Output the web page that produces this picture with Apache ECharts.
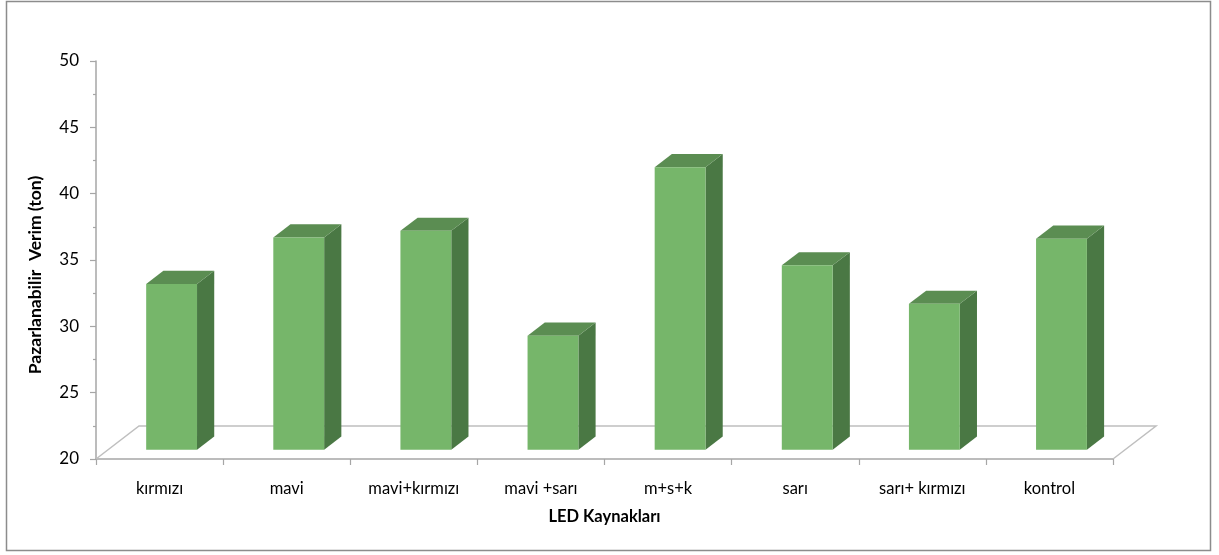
<!DOCTYPE html>
<html>
<head>
<meta charset="utf-8">
<title>LED Kaynakları – Pazarlanabilir Verim</title>
<script src="https://cdn.jsdelivr.net/npm/echarts@6/dist/echarts.min.js"></script>
<style>
  html, body { margin: 0; padding: 0; background: #ffffff; }
  #chart { width: 1219px; height: 555px; }
</style>
</head>
<body>
<div id="chart"></div>
<script>
// LED light sources and the marketable yield (ton) measured under each
const categories = ['kırmızı', 'mavi', 'mavi+kırmızı', 'mavi +sarı', 'm+s+k', 'sarı', 'sarı+ kırmızı', 'kontrol'];
const yieldValues = [32.5, 36.0, 36.5, 28.6, 41.3, 33.9, 31.0, 35.9];
const yTicks = [20, 25, 30, 35, 40, 45, 50];

const Y_MIN = yTicks[0];
const Y_MAX = yTicks[yTicks.length - 1];

// Oblique projection of the floor depth (pixels) and bar placement inside it
const DEPTH = [43, -33];
const BAR_FRONT = 0.28;
const BAR_BACK = 0.68;
const BAR_WIDTH_RATIO = 0.40;

const FONT = 'Lato, "Open Sans", "Liberation Sans", sans-serif';
const COLORS = {
  front: '#76b66a',
  top: '#5b8d52',
  side: '#4a7844',
  axis: '#a6a6a6',
  floor: '#bfbfbf',
  text: '#000000',
  border: '#8c8c8c'
};

function renderFloor(params, api) {
  const cs = params.coordSys;
  const x0 = cs.x, x1 = cs.x + cs.width, y0 = cs.y + cs.height;
  return {
    type: 'polyline',
    shape: {
      points: [
        [x0, y0],
        [x0 + DEPTH[0], y0 + DEPTH[1]],
        [x1 + DEPTH[0], y0 + DEPTH[1]],
        [x1, y0]
      ]
    },
    style: { stroke: COLORS.floor, lineWidth: 1.5, fill: null },
    silent: true
  };
}

function renderBar(params, api) {
  const i = api.value(0);
  const v = api.value(1);
  const base = api.coord([i, Y_MIN]);
  const top = api.coord([i, v]);
  const band = api.size([1, 0])[0];
  const w = band * BAR_WIDTH_RATIO;

  const fx = DEPTH[0] * BAR_FRONT, fy = DEPTH[1] * BAR_FRONT;
  const dx = DEPTH[0] * (BAR_BACK - BAR_FRONT), dy = DEPTH[1] * (BAR_BACK - BAR_FRONT);

  const left = base[0] + fx - w / 2;
  const right = left + w;
  const bottom = base[1] + fy;
  const topY = top[1] + fy;

  return {
    type: 'group',
    children: [
      {
        type: 'polygon',
        shape: { points: [[right, topY], [right + dx, topY + dy], [right + dx, bottom + dy], [right, bottom]] },
        style: { fill: COLORS.side }
      },
      {
        type: 'polygon',
        shape: { points: [[left, topY], [left + dx, topY + dy], [right + dx, topY + dy], [right, topY]] },
        style: { fill: COLORS.top }
      },
      {
        type: 'rect',
        shape: { x: left, y: topY, width: w, height: bottom - topY },
        style: { fill: COLORS.front }
      }
    ]
  };
}

const chart = echarts.init(document.getElementById('chart'), null, { renderer: 'canvas' });

chart.setOption({
  animation: false,
  backgroundColor: '#ffffff',
  textStyle: { fontFamily: FONT },
  graphic: [
    {
      type: 'rect',
      shape: { x: 6.5, y: 1.5, width: 1204, height: 549 },
      style: { fill: null, stroke: COLORS.border, lineWidth: 1.5 },
      silent: true,
      z: -10
    }
  ],
  grid: { left: 96, top: 61, right: 106, bottom: 96, containLabel: false },
  xAxis: {
    type: 'category',
    data: categories,
    boundaryGap: true,
    name: 'LED Kaynakları',
    nameLocation: 'middle',
    nameGap: 49,
    nameTextStyle: { fontFamily: FONT, fontSize: 16.5, fontWeight: 'bold', color: COLORS.text },
    axisLine: { show: true, lineStyle: { color: COLORS.axis, width: 1.5 } },
    axisTick: { show: true, length: 6, alignWithLabel: false, lineStyle: { color: COLORS.axis, width: 1.2 } },
    axisLabel: { margin: 21, fontFamily: FONT, fontSize: 16.5, color: COLORS.text, interval: 0 },
    splitLine: { show: false }
  },
  yAxis: {
    type: 'value',
    min: Y_MIN,
    max: Y_MAX,
    interval: yTicks[1] - yTicks[0],
    name: 'Pazarlanabilir  Verim (ton)',
    nameLocation: 'middle',
    nameGap: 52,
    nameRotate: 90,
    nameTextStyle: {
      fontFamily: FONT, fontSize: 17.5, fontWeight: 'bold', color: COLORS.text,
      padding: [0, 30, 0, 0]
    },
    axisLine: { show: true, lineStyle: { color: COLORS.axis, width: 1.5 } },
    axisTick: { show: true, length: 6, lineStyle: { color: COLORS.axis, width: 1.2 } },
    minorTick: { show: true, splitNumber: 2, length: 3, lineStyle: { color: COLORS.axis, width: 1.2 } },
    axisLabel: { margin: 17, fontFamily: FONT, fontSize: 17, color: COLORS.text },
    splitLine: { show: false }
  },
  series: [
    {
      type: 'custom',
      name: 'floor',
      renderItem: renderFloor,
      data: [[0, Y_MIN]],
      z: 1,
      silent: true
    },
    {
      type: 'custom',
      name: 'Pazarlanabilir Verim',
      renderItem: renderBar,
      data: yieldValues.map((v, i) => [i, v]),
      encode: { x: 0, y: 1 },
      z: 3
    }
  ]
});
</script>
</body>
</html>
